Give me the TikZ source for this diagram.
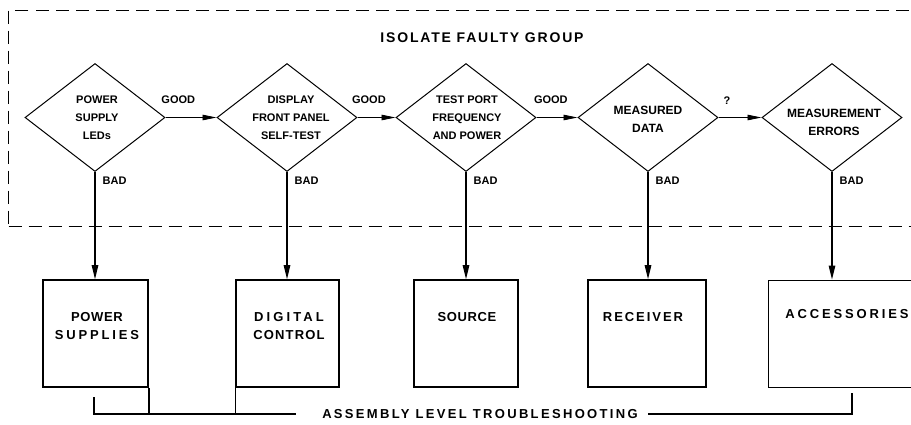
\documentclass[tikz,border=0pt]{standalone}
\usepackage{fontspec}
\setmainfont{Liberation Sans}
\usetikzlibrary{shapes.geometric,arrows.meta}
\newcommand\lsp[2]{{\addfontfeature{LetterSpace=#1}#2}}
\begin{document}
\begin{tikzpicture}[x=1pt,y=-1pt,
  dia/.style={diamond, draw, line width=1pt, minimum width=140pt, minimum height=108pt, inner sep=0pt},
  dtxt/.style={align=center, inner sep=0pt, font=\fontsize{11}{18}\selectfont\bfseries},
  dtxtb/.style={align=center, inner sep=0pt, font=\fontsize{12}{18}\selectfont\bfseries},
  box/.style={draw, line width=1.6pt, inner sep=0pt},
  btxt/.style={align=center, inner sep=0pt, font=\fontsize{13}{18}\selectfont\bfseries},
  lbl/.style={inner sep=0pt, font=\fontsize{11}{13}\selectfont\bfseries},
  harr/.style={line width=0.9pt, -{Triangle[length=14pt,width=5.5pt]}},
  varr/.style={line width=1.3pt, -{Triangle[length=14pt,width=6.5pt]}},
  brk/.style={line width=1.4pt},
  grp/.style={draw, line width=1pt, dash pattern=on 13pt off 7pt},
]
\useasboundingbox (0,0) rectangle (911,424);
\clip (0,0) rectangle (911,424);
\fill[white] (0,0) rectangle (911,424);

% group frame
\node[grp, minimum width=922pt, minimum height=216pt, inner sep=0pt, anchor=north west] (frame) at (8,10) {};
\node[inner sep=0pt, font=\fontsize{14}{16}\selectfont\bfseries] (title) at (482,38) {\lsp{13}{ISOLATE FAULTY GROUP}};

% decisions
\node[dia] (d1) at (95,117.5) {};
\node[dia] (d2) at (287,117.5) {};
\node[dia] (d3) at (466,117.5) {};
\node[dia] (d4) at (648,117.5) {};
\node[dia] (d5) at (832,117.5) {};
\node[dtxt] (t1) at (97,118) {POWER\\SUPPLY\\LEDs};
\node[dtxt] (t2) at (291,118) {DISPLAY\\FRONT PANEL\\SELF-TEST};
\node[dtxt] (t3) at (467,118) {TEST PORT\\FREQUENCY\\AND POWER};
\node[dtxtb] (t4) at (648,119) {MEASURED\\DATA};
\node[dtxtb] (t5) at (834,122) {MEASUREMENT\\ERRORS};

% assemblies
\node[box, minimum width=105pt, minimum height=107pt] (b1) at (95.5,333.5) {};
\node[box, minimum width=103pt, minimum height=107pt] (b2) at (287.5,333.5) {};
\node[box, minimum width=104pt, minimum height=107pt] (b3) at (466,333.5) {};
\node[box, minimum width=118pt, minimum height=107pt] (b4) at (647,333.5) {};
\node[box, line width=1pt, minimum width=152pt, minimum height=107pt] (b5) at (844,333.5) {};
\node[btxt] (bt1) at (97,326) {\lsp{5}{POWER}\\\lsp{22}{SUPPLIES}};
\node[btxt] (bt2) at (289,326) {\lsp{24}{DIGITAL}\\\lsp{9}{CONTROL}};
\node[btxt] (bt3) at (467,317) {\lsp{5}{SOURCE}};
\node[btxt] (bt4) at (643,317) {\lsp{15}{RECEIVER}};
\node[btxt] (bt5) at (847,314) {\lsp{22}{ACCESSORIES}};

% GOOD connectors
\draw[harr] (d1.east) -- node[lbl, pos=0.25, above=13pt] {GOOD} (d2.west);
\draw[harr] (d2.east) -- node[lbl, pos=0.3, above=13pt] {GOOD} (d3.west);
\draw[harr] (d3.east) -- node[lbl, pos=0.35, above=13pt] {GOOD} (d4.west);
\draw[harr] (d4.east) -- node[lbl, pos=0.2, above=13pt] {?} (d5.west);

% BAD connectors
\draw[varr] (d1.south) -- node[lbl, pos=0.08, right=7pt] {BAD} (d1.south |- b1.north);
\draw[varr] (d2.south) -- node[lbl, pos=0.08, right=7pt] {BAD} (d2.south |- b2.north);
\draw[varr] (d3.south) -- node[lbl, pos=0.08, right=7pt] {BAD} (d3.south |- b3.north);
\draw[varr] (d4.south) -- node[lbl, pos=0.08, right=7pt] {BAD} (d4.south |- b4.north);
\draw[varr] (d5.south) -- node[lbl, pos=0.08, right=7pt] {BAD} (d5.south |- b5.north);

% assembly level bracket
\node[inner sep=0pt, font=\fontsize{13}{15}\selectfont\bfseries] (asm) at (480,414) {\lsp{18}{ASSEMBLY LEVEL TROUBLESHOOTING}};
\coordinate (bl) at (94,397);
\coordinate (br) at (852,393);
\coordinate (asmL) at (296,414);
\coordinate (asmR) at (648,414);
\draw[brk] (bl) |- (asmL);
\draw[brk] (asmR) -| (br);
\draw[brk] (b1.south east) -- (b1.south east |- asmL);
\draw[brk] (b2.south west) -- (b2.south west |- asmL);
\end{tikzpicture}
\end{document}
